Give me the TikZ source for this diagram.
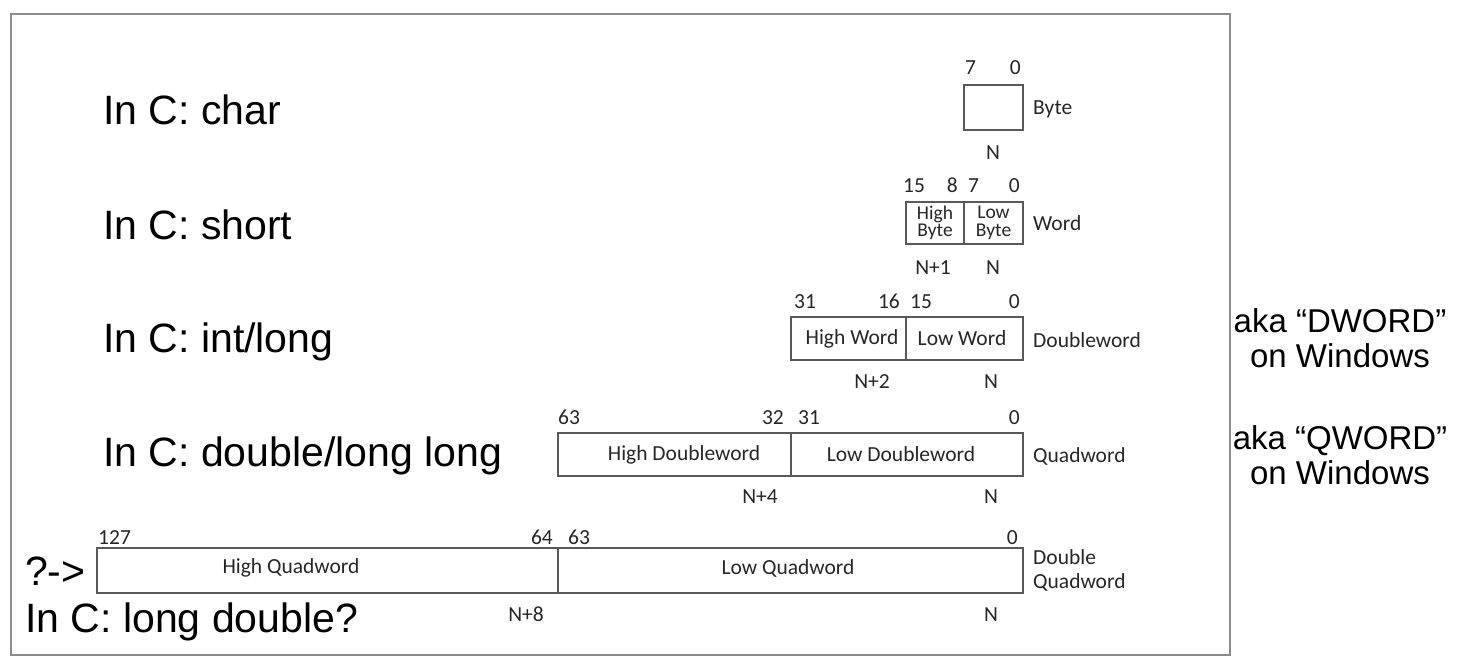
\documentclass[tikz,border=0pt]{standalone}
\usepackage{fontspec}
\setmainfont{Liberation Sans}
\newfontfamily\smallfont{Carlito}
\begin{document}
\begin{tikzpicture}[x=1pt,y=-1pt,
  frame/.style={draw=black!45, line width=2.5pt},
  cell/.style={draw=black!65, line width=1.6pt, inner sep=0pt},
  lbl/.style={font=\smallfont\fontsize{21.5}{17}\selectfont, text=black!85, inner sep=0pt, align=center},
  tight/.style={lbl, font=\smallfont\fontsize{19.5}{17.5}\selectfont},
  num/.style={lbl, anchor=base},
  numl/.style={lbl, anchor=base west},
  numr/.style={lbl, anchor=base east},
  big/.style={font=\fontsize{41}{45}\selectfont, inner sep=0pt, anchor=base west},
  aka/.style={font=\fontsize{33}{35}\selectfont, align=center, inner sep=0pt, anchor=base}]
\useasboundingbox (0,0) rectangle (1469,664);
\node[frame, minimum width=1219pt, minimum height=641pt, inner sep=0pt] (frm) at (620.5,334.5) {};

% left texts
\node[big] (tchar) at (103,124) {In C: char};
\node[big] (tshort) at (103,239) {In C: short};
\node[big] (tint) at (103,352) {In C: int/long};
\node[big] (tdbl) at (103,466) {In C: double/long long};
\node[big] (tq) at (25,585) {?->};
\node[big] (tld) at (25,632) {In C: long double?};

% right texts
\node[aka] (akad) at (1340,367) {aka “DWORD”\\on Windows};
\node[aka] (akaq) at (1340,484) {aka “QWORD”\\on Windows};

% Byte
\node[cell, minimum width=59pt, minimum height=45pt] (byte) at (993.5,107.5) {};
\node[numl] (b7) at (965,74) {7};
\node[numr] (b0) at (1021,74) {0};
\node[numl] (blab) at (1033,114) {Byte};
\node[num] (bn) at (993,159) {N};

% Word
\node[cell, minimum width=58pt, minimum height=42pt] (whi) at (935,223) {};
\node[cell, minimum width=59pt, minimum height=42pt] (wlo) at (993.5,223) {};
\node[tight] (whit) at (whi.center) {High\\Byte};
\node[tight] (wlot) at (wlo.center) {Low\\Byte};
\node[numl] (w15) at (903,192) {15};
\node[numr] (w8) at (958,192) {8};
\node[numl] (w7) at (968,192) {7};
\node[numr] (w0) at (1020,192) {0};
\node[numl] (wlab) at (1033,230) {Word};
\node[num] (wn1) at (933,274) {N+1};
\node[num] (wn) at (993,274) {N};

% Doubleword
\node[cell, minimum width=115pt, minimum height=43pt] (dhi) at (848.5,338.5) {};
\node[cell, minimum width=117pt, minimum height=43pt] (dlo) at (964.5,338.5) {};
\node[lbl] (dhit) at (852,338.5) {High Word};
\node[lbl] (dlot) at (962,338.5) {Low Word};
\node[numl] (d31) at (794,308) {31};
\node[numr] (d16) at (900,308) {16};
\node[numl] (d15) at (910,308) {15};
\node[numr] (d0) at (1020,308) {0};
\node[numl] (dlab) at (1033,347) {Doubleword};
\node[num] (dn2) at (872,388) {N+2};
\node[num] (dn) at (991,388) {N};

% Quadword
\node[cell, minimum width=233pt, minimum height=43pt] (qhi) at (674.5,454.5) {};
\node[cell, minimum width=232pt, minimum height=43pt] (qlo) at (907,454.5) {};
\node[lbl] (qhit) at (684,454.5) {High Doubleword};
\node[lbl] (qlot) at (901,454.5) {Low Doubleword};
\node[numl] (q63) at (558,424) {63};
\node[numr] (q32) at (784,424) {32};
\node[numl] (q31) at (798,424) {31};
\node[numr] (q0) at (1020,424) {0};
\node[numl] (qlab) at (1033,462) {Quadword};
\node[num] (qn4) at (760,503) {N+4};
\node[num] (qn) at (991,503) {N};

% Double Quadword
\node[cell, minimum width=461pt, minimum height=45pt] (xhi) at (327.5,570.5) {};
\node[cell, minimum width=465pt, minimum height=45pt] (xlo) at (790.5,570.5) {};
\node[lbl] (xhit) at (291,568) {High Quadword};
\node[lbl] (xlot) at (788,568) {Low Quadword};
\node[numl] (x127) at (98,544) {127};
\node[numr] (x64) at (553,544) {64};
\node[numl] (x63) at (568,544) {63};
\node[numr] (x0) at (1018,544) {0};
\node[numl] (xlab1) at (1033,564) {Double};
\node[numl] (xlab2) at (1033,588) {Quadword};
\node[num] (xn8) at (526,621) {N+8};
\node[num] (xn) at (991,621) {N};
\end{tikzpicture}
\end{document}
